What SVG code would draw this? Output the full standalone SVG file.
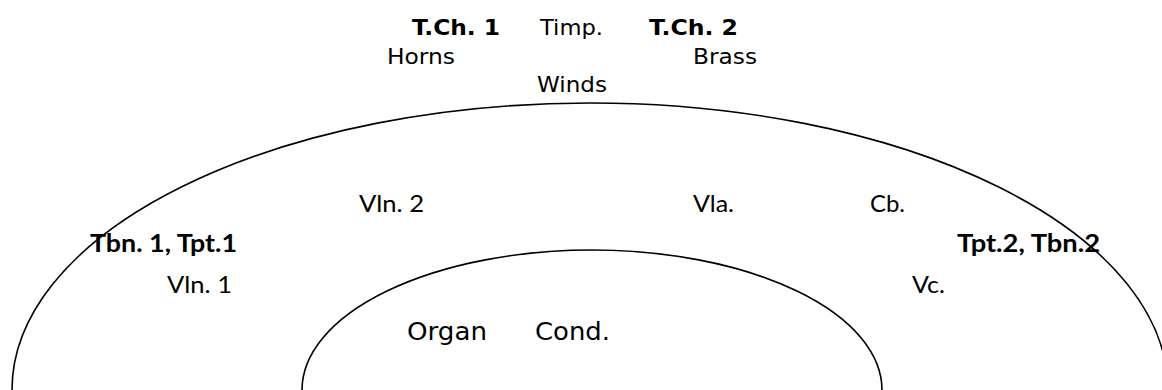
<svg xmlns="http://www.w3.org/2000/svg" width="1162" height="390" viewBox="0 0 1162 390">
<style>
.v{font-family:"DejaVu Sans","Verdana",sans-serif;font-size:22px;fill:#000}
.vb{font-weight:bold}
.o{font-size:25px}
.c{font-family:"Lato","Open Sans",sans-serif;font-size:24px;fill:#000}
.cb{font-weight:bold;font-size:25px}
.arc{fill:none;stroke:#000;stroke-width:1.6}
</style>
<rect width="1162" height="390" fill="#fff"/>
<g id="connectors">
<path id="outer" class="arc" d="M 12 390 A 578 287 0 0 1 1168 390"/>
<path id="inner" class="arc" d="M 302 390 A 290 140 0 0 1 882 390"/>
</g>
<g id="tch1"><text class="v vb" x="412" y="35" textLength="88" lengthAdjust="spacingAndGlyphs">T.Ch. 1</text></g>
<g id="timp"><text class="v" x="540" y="35" textLength="63" lengthAdjust="spacingAndGlyphs">Timp.</text></g>
<g id="tch2"><text class="v vb" x="649" y="35" textLength="89" lengthAdjust="spacingAndGlyphs">T.Ch. 2</text></g>
<g id="horns"><text class="v" x="387" y="64" textLength="68" lengthAdjust="spacingAndGlyphs">Horns</text></g>
<g id="brass"><text class="v" x="693" y="64" textLength="64" lengthAdjust="spacingAndGlyphs">Brass</text></g>
<g id="winds"><text class="v" x="537" y="92" textLength="70" lengthAdjust="spacingAndGlyphs">Winds</text></g>
<g id="vln2"><text class="c" x="359" y="212" textLength="65" lengthAdjust="spacingAndGlyphs">Vln. 2</text></g>
<g id="vla"><text class="c" x="693" y="212" textLength="41" lengthAdjust="spacingAndGlyphs">Vla.</text></g>
<g id="cb"><text class="c" x="870" y="212" textLength="35" lengthAdjust="spacingAndGlyphs">Cb.</text></g>
<g id="tbn1"><text class="c cb" x="90" y="252" textLength="147" lengthAdjust="spacingAndGlyphs">Tbn. 1, Tpt.1</text></g>
<g id="tpt2"><text class="c cb" x="957" y="252" textLength="143" lengthAdjust="spacingAndGlyphs">Tpt.2, Tbn.2</text></g>
<g id="vln1"><text class="c" x="167" y="293" textLength="65" lengthAdjust="spacingAndGlyphs">Vln. 1</text></g>
<g id="vc"><text class="c" x="912" y="293" textLength="33" lengthAdjust="spacingAndGlyphs">Vc.</text></g>
<g id="organ"><text class="v o" x="407" y="340" textLength="80" lengthAdjust="spacingAndGlyphs">Organ</text></g>
<g id="cond"><text class="v o" x="535" y="340" textLength="75" lengthAdjust="spacingAndGlyphs">Cond.</text></g>
</svg>
